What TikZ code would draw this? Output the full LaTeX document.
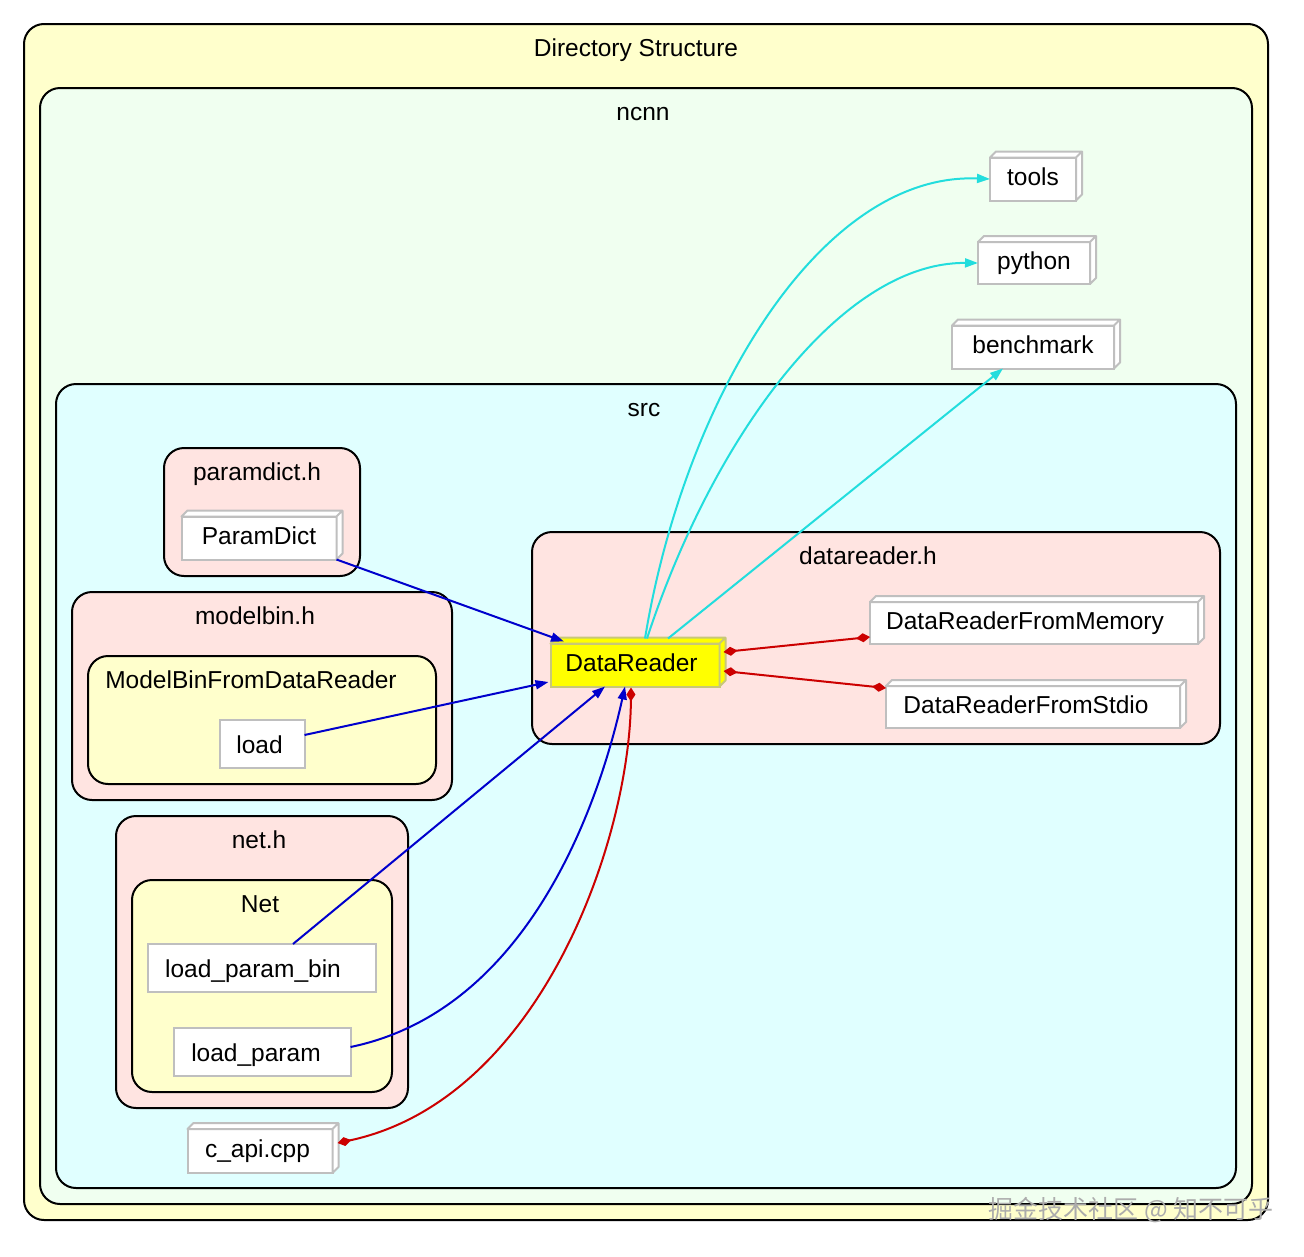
\documentclass[tikz,border=0pt]{standalone}
\usepackage{fontspec}
\setmainfont{Liberation Sans}
\newfontfamily\cjk{Noto Sans CJK SC}
\usetikzlibrary{arrows.meta}
\definecolor{outerfill}{HTML}{FFFFCC}
\definecolor{ncnnfill}{HTML}{F0FFF0}
\definecolor{srcfill}{HTML}{E0FFFF}
\definecolor{hdrfill}{HTML}{FFE4E1}
\definecolor{clsfill}{HTML}{FFFFCC}
\definecolor{nodegray}{HTML}{BFBFBF}
\definecolor{cyanedge}{HTML}{22DDDD}
\definecolor{blueedge}{HTML}{0000CC}
\definecolor{rededge}{HTML}{CC0000}
\definecolor{drfill}{HTML}{FFFF00}
\definecolor{drline}{HTML}{C8C878}
\begin{document}
\begin{tikzpicture}[x=1pt,y=-1pt,
  lbl/.style={font=\fontsize{24.5}{29}\selectfont},
  cluster/.style={draw=black, line width=2pt, rounded corners=20pt},
  ctitle/.style={lbl, anchor=base, inner sep=0pt},
  fnode/.style={lbl, draw=nodegray, fill=white, line width=2pt, inner sep=0pt, outer sep=0pt, text height=17pt, text depth=5pt},
  pnode/.style={fnode, text height=20pt, text depth=2pt},
  face/.style={line width=2pt, line join=round},
  cyanarrow/.style={draw=cyanedge, line width=2pt, -{Triangle[length=13pt,width=9pt]}},
  bluearrow/.style={draw=blueedge, line width=2pt, -{Triangle[length=13pt,width=9pt]}},
  redlink/.style={draw=rededge, line width=2pt, {Diamond[length=14pt,width=9pt]}-{Diamond[length=14pt,width=9pt]}}
]
\fill[white] (0,0) rectangle (1304,1256);
\useasboundingbox (0,0) rectangle (1304,1256);

% clusters
\filldraw[cluster, fill=outerfill] (24,24) rectangle (1268,1220);
\filldraw[cluster, fill=ncnnfill] (40,88) rectangle (1252,1204);
\filldraw[cluster, fill=srcfill] (56,384) rectangle (1236,1188);
\filldraw[cluster, fill=hdrfill] (164,448) rectangle (360,576);
\filldraw[cluster, fill=hdrfill] (532,532) rectangle (1220,744);
\filldraw[cluster, fill=hdrfill] (72,592) rectangle (452,800);
\filldraw[cluster, fill=clsfill] (88,656) rectangle (436,784);
\filldraw[cluster, fill=hdrfill] (116,816) rectangle (408,1108);
\filldraw[cluster, fill=clsfill] (132,880) rectangle (392,1092);

% cluster titles
\node[ctitle] (tdir) at (636,56) {Directory Structure};
\node[ctitle] (tncnn) at (643,120) {ncnn};
\node[ctitle] (tsrc) at (644,416) {src};
\node[ctitle] (tparamh) at (257,480) {paramdict.h};
\node[ctitle] (tdrh) at (868,564) {datareader.h};
\node[ctitle] (tmbh) at (255,624) {modelbin.h};
\node[ctitle] (tmbfdr) at (251,688) {ModelBinFromDataReader};
\node[ctitle] (tneth) at (259,848) {net.h};
\node[ctitle] (tnet) at (260,912) {Net};

% nodes
\node[fnode, minimum width=86pt, minimum height=43pt] (tools) at (1033,179) {tools};
\node[fnode, minimum width=112pt, minimum height=42pt] (python) at (1034,263) {python};
\node[fnode, minimum width=162pt, minimum height=43pt] (benchmark) at (1033,347) {benchmark};
\node[fnode, minimum width=155pt, minimum height=43pt] (paramdict) at (259,538) {ParamDict};
\node[fnode, fill=drfill, draw=drline, minimum width=169pt, minimum height=43pt] (dr) at (635,665) {\hspace*{-7pt}DataReader};
\node[fnode, minimum width=328pt, minimum height=42pt] (drfm) at (1034,623) {\hspace*{-18pt}DataReaderFromMemory};
\node[fnode, minimum width=294pt, minimum height=42pt] (drfs) at (1033,707) {\hspace*{-14pt}DataReaderFromStdio};
\node[fnode, minimum width=145pt, minimum height=44pt] (capi) at (260,1151) {\hspace*{-5pt}c\_api.cpp};
\node[pnode, minimum width=85pt, minimum height=48pt] (load) at (262,744) {\hspace*{-5pt}load};
\node[pnode, minimum width=228pt, minimum height=48pt] (lpb) at (262,968) {\hspace*{-18pt}load\_param\_bin};
\node[pnode, minimum width=177pt, minimum height=48pt] (lp) at (262,1052) {\hspace*{-12pt}load\_param};

% box3d faces
\foreach \n/\f/\l in {tools/white/nodegray, python/white/nodegray, benchmark/white/nodegray,
  paramdict/white/nodegray, dr/drfill/drline, drfm/white/nodegray, drfs/white/nodegray, capi/white/nodegray} {
  \filldraw[face, fill=\f, draw=\l] (\n.north west) -- ++(6,-6) -- ([shift={(6,-6)}]\n.north east)
    -- ([shift={(6,-6)}]\n.south east) -- (\n.south east) -- (\n.north east) -- cycle
    (\n.north east) -- ++(6,-6);
}

% edges
\draw[cyanarrow] ([shift={(10,-5)}]dr.north) .. controls (684,400) and (820,172) .. (tools.west);
\draw[cyanarrow] ([shift={(12,-5)}]dr.north) .. controls (712,440) and (840,262) .. (python.west);
\draw[cyanarrow] ([shift={(33,-5)}]dr.north) -- ([shift={(-30,0)}]benchmark.south);

\draw[bluearrow] (paramdict.south east) -- ([shift={(-71,-2)}]dr.north);
\draw[bluearrow] ([shift={(0,-9)}]load.east) -- ([shift={(-2,17)}]dr.west);
\draw[bluearrow] ([shift={(31,0)}]lpb.north) -- ([shift={(-30,0)}]dr.south);
\draw[bluearrow] ([shift={(0,-5)}]lp.east) .. controls (530,1010) and (600,800) .. ([shift={(-10,0)}]dr.south);

\draw[redlink] ([shift={(5,-8)}]capi.east) .. controls (540,1100) and (630,840) .. ([shift={(-4,1)}]dr.south);
\draw[redlink] ([shift={(4,-13)}]dr.east) -- ([shift={(0,14)}]drfm.west);
\draw[redlink] ([shift={(4,6)}]dr.east) -- ([shift={(0,-19)}]drfs.west);

% watermark
\node[font=\cjk\fontsize{25}{30}\selectfont, text=gray!65, anchor=east, inner sep=0pt] (wm) at (1274,1210) {掘金技术社区 @ 知不可乎};
\end{tikzpicture}
\end{document}
